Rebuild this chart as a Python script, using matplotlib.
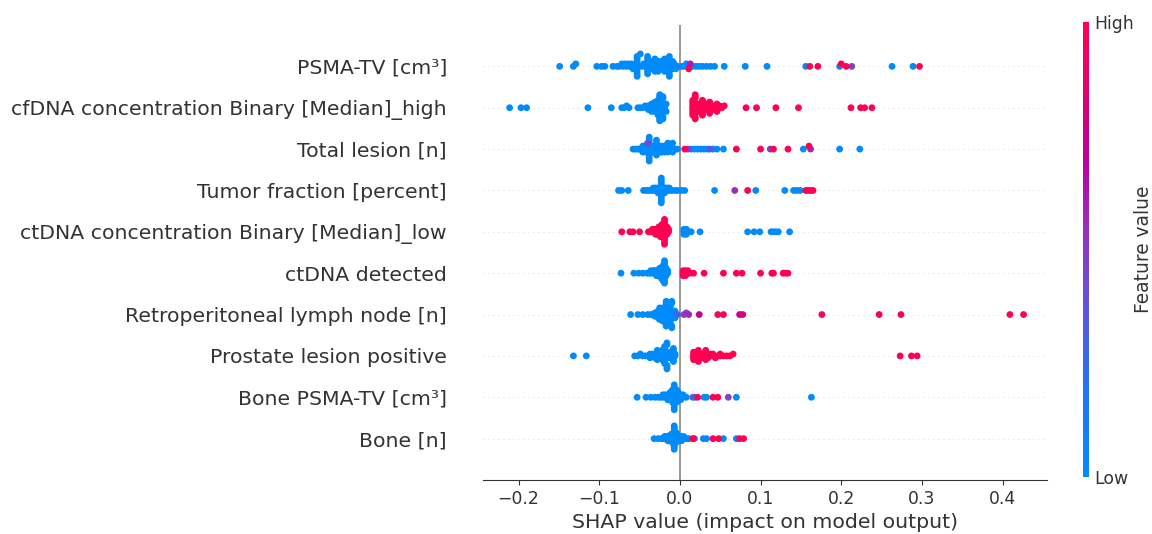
import matplotlib
matplotlib.use("Agg")
import matplotlib.pyplot as plt
import numpy as np
from matplotlib.colors import LinearSegmentedColormap
from matplotlib.cm import ScalarMappable

# feature names, top to bottom
features = [
    "PSMA-TV [cm³]",
    "cfDNA concentration Binary [Median]_high",
    "Total lesion [n]",
    "Tumor fraction [percent]",
    "ctDNA concentration Binary [Median]_low",
    "ctDNA detected",
    "Retroperitoneal lymph node [n]",
    "Prostate lesion positive",
    "Bone PSMA-TV [cm³]",
    "Bone [n]",
]

# SHAP values, split by feature value (low = blue, high = red)
# *_mid holds (shap, feature level 0..1) for the purple-ish points
psma_low = [-0.149, -0.132, -0.129, -0.103, -0.097, -0.093, -0.083, -0.078, -0.075, -0.072,
            -0.070, -0.068, -0.066, -0.064, -0.062, -0.060, -0.058,
            -0.053, -0.053, -0.053, -0.053, -0.053, -0.053, -0.053, -0.053, -0.053,
            -0.049, -0.047, -0.045, -0.043,
            -0.040, -0.040, -0.040, -0.040, -0.040, -0.040, -0.040,
            -0.037, -0.035, -0.035, -0.033, -0.033, -0.031, -0.031, -0.029, -0.029,
            -0.027, -0.027, -0.027, -0.025, -0.025, -0.023, -0.023, -0.021, -0.021, -0.021,
            -0.019, -0.019, -0.019, -0.017, -0.017, -0.015, -0.015, -0.015, -0.015,
            -0.013, -0.013, -0.013, -0.011, -0.011, -0.009, -0.009, -0.007, -0.007,
            -0.005, -0.003, 0.002, 0.005, 0.008, 0.012, 0.016, 0.020, 0.024, 0.028,
            0.033, 0.038, 0.043, 0.055, 0.081, 0.108, 0.156, 0.198, 0.263, 0.289]
psma_high = [0.011, 0.161, 0.171, 0.200, 0.206, 0.297]
psma_mid = [(0.013, 0.6), (0.213, 0.45)]

cfdna_low = [-0.211, -0.197, -0.190, -0.114, -0.085, -0.072, -0.069, -0.066, -0.063,
             -0.052, -0.049, -0.046, -0.043, -0.041, -0.039, -0.039, -0.037, -0.037,
             -0.035, -0.035, -0.035, -0.033, -0.033, -0.033, -0.031, -0.031, -0.031,
             -0.029, -0.029, -0.029, -0.029, -0.027, -0.027, -0.027, -0.027, -0.027,
             -0.025, -0.025, -0.025, -0.025, -0.025, -0.025,
             -0.023, -0.023, -0.023, -0.023, -0.023, -0.023, -0.023, -0.023, -0.023,
             -0.021, -0.021, -0.021, -0.021, -0.019, -0.019, -0.019, -0.017, -0.017]
cfdna_high = [0.016, 0.016, 0.016, 0.016, 0.016, 0.016, 0.016, 0.016, 0.016,
              0.019, 0.019, 0.019, 0.019, 0.019, 0.022, 0.022, 0.022, 0.022, 0.022,
              0.025, 0.025, 0.025, 0.025, 0.025, 0.028, 0.028, 0.028, 0.028,
              0.031, 0.031, 0.031, 0.031, 0.034, 0.034, 0.034, 0.034,
              0.037, 0.037, 0.037, 0.040, 0.040, 0.040, 0.043, 0.043, 0.043,
              0.046, 0.046, 0.049, 0.049, 0.052, 0.055,
              0.082, 0.095, 0.119, 0.147, 0.212, 0.224, 0.229, 0.238]
cfdna_mid = []

lesion_low = [-0.058, -0.055, -0.052, -0.050, -0.048, -0.046, -0.046, -0.044, -0.044,
              -0.042, -0.042, -0.042, -0.038, -0.038, -0.038, -0.038, -0.038, -0.038,
              -0.038, -0.038, -0.038, -0.035, -0.035, -0.035, -0.033, -0.033, -0.033,
              -0.029, -0.029, -0.029, -0.029, -0.029, -0.029, -0.026, -0.026, -0.026,
              -0.024, -0.024, -0.024, -0.022, -0.022, -0.022, -0.019, -0.019, -0.019,
              -0.017, -0.017, -0.015, -0.015, -0.013, -0.013, -0.011, -0.011,
              -0.009, -0.009, -0.007, -0.005, -0.003,
              0.014, 0.018, 0.022, 0.026, 0.030, 0.034, 0.041, 0.046, 0.054,
              0.153, 0.198, 0.223]
lesion_high = [0.006, 0.070, 0.100, 0.116, 0.134, 0.160]
lesion_mid = [(-0.040, 0.4), (0.010, 0.5), (0.037, 0.35), (0.112, 0.5), (0.162, 0.55)]

tumor_low = [-0.076, -0.072, -0.064, -0.045, -0.042, -0.039, -0.036, -0.033, -0.033,
             -0.030, -0.030, -0.027, -0.027, -0.027,
             -0.023, -0.023, -0.023, -0.023, -0.023, -0.023, -0.023, -0.023, -0.023,
             -0.023, -0.023, -0.019, -0.019, -0.019, -0.016, -0.016, -0.013, -0.013,
             -0.010, -0.006, -0.003, 0.002, 0.006, 0.043, 0.094, 0.130, 0.141, 0.145, 0.149]
tumor_high = [0.084, 0.156, 0.159, 0.162, 0.165]
tumor_mid = [(0.068, 0.55)]

ctdna_low_high = [-0.072, -0.062, -0.058, -0.050, -0.039, -0.036, -0.034, -0.034,
                  -0.032, -0.032, -0.030, -0.030, -0.030, -0.028, -0.028, -0.028,
                  -0.026, -0.026, -0.026, -0.026, -0.024, -0.024, -0.024, -0.024, -0.024,
                  -0.022, -0.022, -0.022, -0.022, -0.022, -0.022,
                  -0.019, -0.019, -0.019, -0.019, -0.019, -0.019, -0.019, -0.019, -0.019,
                  -0.019, -0.019, -0.016, -0.016, -0.016, -0.016, -0.014, -0.014]
ctdna_low_low = [0.005, 0.005, 0.005, 0.008, 0.008, 0.008, 0.011, 0.014, 0.025,
                 0.084, 0.092, 0.099, 0.113, 0.116, 0.119, 0.122, 0.136]
ctdna_low_mid = []

detected_low = [-0.073, -0.057, -0.051, -0.046, -0.041, -0.038, -0.036, -0.036,
                -0.033, -0.033, -0.031, -0.031, -0.029, -0.029, -0.029,
                -0.027, -0.027, -0.027, -0.025, -0.025, -0.025, -0.025,
                -0.023, -0.023, -0.023, -0.023, -0.023,
                -0.021, -0.021, -0.021, -0.021, -0.021, -0.021, -0.021,
                -0.019, -0.019, -0.019, -0.019, -0.019, -0.019, -0.019, -0.019, -0.019, -0.019,
                -0.017, -0.017, -0.017, -0.017, -0.015, -0.015]
detected_high = [0.004, 0.004, 0.004, 0.007, 0.007, 0.007, 0.010, 0.010, 0.013, 0.017,
                 0.030, 0.054, 0.070, 0.077, 0.100, 0.114, 0.116, 0.128, 0.131, 0.134]
detected_mid = []

retro_low = [-0.061, -0.052, -0.046, -0.040, -0.036, -0.033, -0.031, -0.031, -0.029, -0.029,
             -0.027, -0.027, -0.027, -0.025, -0.025, -0.025, -0.023, -0.023, -0.023, -0.023,
             -0.021, -0.021, -0.021, -0.021, -0.021, -0.019, -0.019, -0.019, -0.019, -0.019,
             -0.017, -0.017, -0.017, -0.017, -0.017, -0.017, -0.017, -0.017, -0.017, -0.017, -0.017,
             -0.014, -0.014, -0.014, -0.014, -0.014, -0.014,
             -0.012, -0.012, -0.012, -0.012, -0.012, -0.012, -0.012,
             -0.010, -0.010, -0.010, -0.010, -0.008, -0.008, -0.008, -0.006, -0.006]
retro_high = [0.047, 0.054, 0.176, 0.247, 0.274, 0.409, 0.426]
retro_mid = [(-0.003, 0.3), (0.005, 0.5), (0.008, 0.5), (0.011, 0.55),
             (0.024, 0.75), (0.074, 0.75), (0.078, 0.8)]

prostate_low = [-0.132, -0.116, -0.056, -0.052, -0.049, -0.046, -0.043, -0.040,
                -0.037, -0.037, -0.034, -0.034, -0.031, -0.031, -0.031,
                -0.028, -0.028, -0.028, -0.025, -0.025, -0.025, -0.025,
                -0.022, -0.022, -0.022, -0.022, -0.022, -0.022,
                -0.019, -0.019, -0.019, -0.019, -0.019, -0.019, -0.019, -0.019, -0.019, -0.019,
                -0.016, -0.016, -0.016, -0.016, -0.016, -0.013, -0.013, -0.013, -0.013,
                -0.010, -0.010, -0.010, -0.010, -0.008, -0.008, -0.008, -0.008, -0.006, -0.006]
prostate_high = [0.017, 0.017, 0.017, 0.017, 0.017, 0.020, 0.020, 0.020, 0.020,
                 0.023, 0.023, 0.023, 0.026, 0.026, 0.026, 0.029, 0.029, 0.029,
                 0.032, 0.032, 0.032, 0.035, 0.035, 0.035, 0.038, 0.038, 0.041, 0.041,
                 0.044, 0.047, 0.050, 0.050, 0.054, 0.058, 0.062, 0.066,
                 0.273, 0.287, 0.294]
prostate_mid = []

bone_tv_low = [-0.053, -0.042, -0.036, -0.031, -0.027, -0.024, -0.021, -0.021,
               -0.018, -0.018, -0.015, -0.015, -0.015, -0.012, -0.012, -0.012, -0.012,
               -0.009, -0.009, -0.009, -0.009, -0.009, -0.009,
               -0.007, -0.007, -0.007, -0.007, -0.007, -0.007, -0.007, -0.007, -0.007,
               -0.007, -0.007, -0.004, -0.004, -0.004, -0.004, -0.004, -0.004,
               -0.002, -0.002, -0.002, -0.002, 0.001, 0.001, 0.001, 0.004, 0.004,
               0.008, 0.019, 0.030, 0.033, 0.070, 0.163]
bone_tv_high = [0.022, 0.041, 0.047]
bone_tv_mid = [(0.016, 0.3), (0.060, 0.45)]

bone_n_low = [-0.032, -0.027, -0.023, -0.021, -0.019, -0.019, -0.017, -0.017,
              -0.015, -0.015, -0.015, -0.013, -0.013, -0.013,
              -0.011, -0.011, -0.011, -0.011, -0.009, -0.009, -0.009, -0.009, -0.009,
              -0.007, -0.007, -0.007, -0.007, -0.007, -0.007, -0.007, -0.007, -0.007,
              -0.007, -0.007, -0.007, -0.005, -0.005, -0.005, -0.005, -0.005, -0.005,
              -0.003, -0.003, -0.003, -0.003, -0.001, -0.001, -0.001,
              0.002, 0.002, 0.002, 0.005, 0.005, 0.008, 0.011, 0.029, 0.033, 0.054, 0.070]
bone_n_high = [0.016, 0.041, 0.048, 0.074, 0.079]
bone_n_mid = [(0.018, 0.5)]

rows = [
    (psma_low, psma_high, psma_mid),
    (cfdna_low, cfdna_high, cfdna_mid),
    (lesion_low, lesion_high, lesion_mid),
    (tumor_low, tumor_high, tumor_mid),
    (ctdna_low_low, ctdna_low_high, ctdna_low_mid),
    (detected_low, detected_high, detected_mid),
    (retro_low, retro_high, retro_mid),
    (prostate_low, prostate_high, prostate_mid),
    (bone_tv_low, bone_tv_high, bone_tv_mid),
    (bone_n_low, bone_n_high, bone_n_mid),
]

# shap-like red/blue colormap
red_blue = LinearSegmentedColormap.from_list("red_blue", [
    (0.0, "#008bfb"), (0.2, "#2573f0"), (0.4, "#6a4fd6"),
    (0.55, "#9a2eb8"), (0.7, "#bb00a0"), (0.85, "#e00070"), (1.0, "#ff0052")])


def swarm_offsets(shaps, row_height=0.4):
    # same stacking idea as shap's beeswarm
    shaps = np.asarray(shaps)
    nbins = 100
    quant = np.round(nbins * (shaps - shaps.min()) / (shaps.max() - shaps.min() + 1e-8))
    inds = np.argsort(quant, kind="stable")
    ys = np.zeros(len(shaps))
    layer = 0
    last_bin = -1
    for ind in inds:
        if quant[ind] != last_bin:
            layer = 0
        ys[ind] = np.ceil(layer / 2) * ((layer % 2) * 2 - 1)
        layer += 1
        last_bin = quant[ind]
    ys *= 0.9 * (row_height / np.max(ys + 1))
    return ys


fig = plt.figure(figsize=(11.52, 5.34), dpi=100)
ax = fig.add_axes([483 / 1152, 54 / 534, 564 / 1152, 455 / 534])

n = len(features)
ax.axvline(0, color="#999999", lw=1.4, zorder=-1)
for i, (low, high, mid) in enumerate(rows):
    pos = n - 1 - i
    ax.axhline(pos, color="#cccccc", lw=0.6, dashes=(1, 5), zorder=-1)
    shaps = np.array(low + [m[0] for m in mid] + high)
    vals = np.array([0.0] * len(low) + [m[1] for m in mid] + [1.0] * len(high))
    ys = swarm_offsets(shaps)
    ax.scatter(shaps, pos + ys, c=vals, cmap=red_blue, vmin=0, vmax=1,
               s=24, linewidth=0, zorder=3)

ax.set_ylim(-1, n)
ax.set_xlim(-0.244, 0.455)
ax.set_yticks(range(n))
ax.set_yticklabels(features[::-1], fontsize=14.7, color="#333333")
ax.set_xticks([-0.2, -0.1, 0.0, 0.1, 0.2, 0.3, 0.4])
ax.tick_params(axis="y", length=0, pad=26)
ax.tick_params(axis="x", labelsize=12.4, colors="#333333", labelcolor="#333333")
for side in ["top", "right", "left"]:
    ax.spines[side].set_visible(False)
ax.spines["bottom"].set_color("#333333")
ax.set_xlabel("SHAP value (impact on model output)", fontsize=14.7, color="#333333")

cax = fig.add_axes([1083 / 1152, 57 / 534, 6 / 1152, 455 / 534])
cb = fig.colorbar(ScalarMappable(cmap=red_blue), cax=cax, ticks=[0, 1])
cb.set_ticklabels(["Low", "High"])
cb.ax.tick_params(labelsize=12.4, length=0, labelcolor="#333333")
cb.outline.set_visible(False)
cb.set_label("Feature value", size=13.4, labelpad=0, color="#333333")

fig.savefig("out.png", dpi=100)
